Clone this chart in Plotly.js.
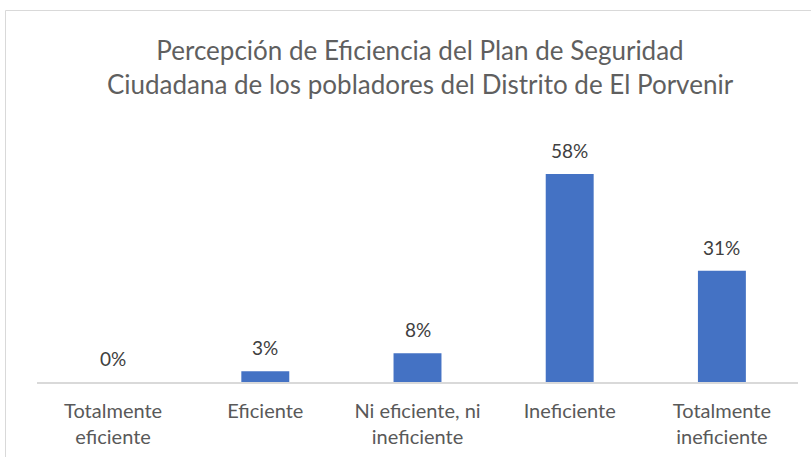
<!DOCTYPE html>
<html>
<head>
<meta charset="utf-8">
<script src="https://cdn.plot.ly/plotly-3.0.1.min.js"></script>
<style>
html,body{margin:0;padding:0;background:#fff;}
#chart{width:811px;height:457px;}
</style>
</head>
<body>
<div id="chart"></div>
<script>
const categories = ["Totalmente<br>eficiente", "Eficiente", "Ni eficiente, ni<br>ineficiente", "Ineficiente", "Totalmente<br>ineficiente"];
const values = [0, 3, 8, 58, 31];
const labels = ["0%", "3%", "8%", "58%", "31%"];

const FONT = "Lato, 'Open Sans', sans-serif";
const L = 37, R = 13, T = 131, B = 75;
const W = 811, H = 457;
const pw = W - L - R, ph = H - T - B;
function px(x){ return (x - L) / pw; }
function py(y){ return (H - B - y) / ph; }

const trace = {
  type: "bar",
  x: categories,
  y: values,
  marker: {color: "#4472C4"},
  hoverinfo: "x+y"
};

const annotations = categories.map((c, i) => ({
  x: c, y: values[i], xref: "x", yref: "y",
  text: labels[i], showarrow: false,
  yanchor: "bottom", yshift: 10,
  font: {family: FONT, size: 19, color: "#404040"}
}));

const layout = {
  width: W, height: H,
  margin: {l: L, r: R, t: T, b: B, pad: 0},
  paper_bgcolor: "#fff", plot_bgcolor: "#fff",
  bargap: 0.685,
  showlegend: false,
  title: {
    text: "Percepción de Eficiencia del Plan de Seguridad<br>Ciudadana de los pobladores del Distrito de El Porvenir",
    font: {family: FONT, size: 26, color: "#5f5f5f"},
    x: 420 / W, xref: "container", xanchor: "center",
    y: 1 - 60 / H, yref: "container", yanchor: "top"
  },
  xaxis: {
    showline: true, linecolor: "#d9d9d9", linewidth: 2,
    ticks: "", showgrid: false, zeroline: false,
    tickfont: {family: FONT, size: 20, color: "#595959"},
    ticklabelstandoff: 10
  },
  yaxis: {
    range: [0, 70], visible: false, showgrid: false, zeroline: false, fixedrange: true
  },
  annotations: annotations,
  shapes: [{
    type: "rect", xref: "paper", yref: "paper",
    x0: px(5.5), x1: px(816), y0: py(462), y1: py(10.5),
    line: {color: "#d9d9d9", width: 1}, fillcolor: "rgba(0,0,0,0)", layer: "below"
  }]
};

Plotly.newPlot("chart", [trace], layout, {displayModeBar: false, staticPlot: true});
</script>
</body>
</html>
